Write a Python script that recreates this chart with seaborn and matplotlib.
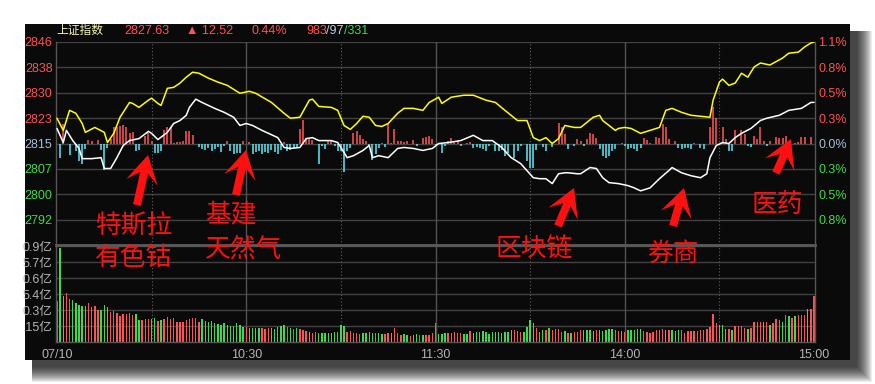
import numpy as np
import pandas as pd
import matplotlib
matplotlib.use("Agg")
import matplotlib.pyplot as plt
import seaborn as sns
from matplotlib.patches import Rectangle, FancyArrow

# ---------------- data ----------------
prev_close = 2815.11
title_name = "上证指数"
last_price = "2827.63"
change_txt = "▲ 12.52"
pct_txt = "0.44%"
breadth = ["983", "/97", "/331"]

price_ticks_k = [4, 3, 2, 1, 0, -1, -2, -3]
price_labels = ["2846", "2838", "2830", "2823", "2815", "2807", "2800", "2792"]
pct_labels = ["1.1%", "0.8%", "0.5%", "0.3%", "0.0%", "0.3%", "0.5%", "0.8%"]
vol_ticks = [16, 32, 48, 64, 80, 96]
vol_labels = [".15亿", "0.3亿", "5.4亿", "0.6亿", "5.7亿", "0.9亿"]
time_ticks = [0, 60, 120, 180, 240]
time_labels = ["07/10", "10:30", "11:30", "14:00", "15:00"]

white_min = [0, 2, 3, 5, 7, 8, 11, 14, 15, 17, 19, 21, 23, 26, 29, 30, 32, 35, 37, 39,
             41, 42, 44, 46, 48, 50, 53, 56, 58, 60, 62, 65, 70, 72, 74, 77, 79, 81, 83, 87,
             89, 91, 92, 94, 97, 99, 100, 102, 105, 108, 110, 113, 116, 119, 121, 124, 128,
             132, 135, 138, 141, 144, 147, 151, 153, 155, 157, 159, 161, 162, 165, 166, 169,
             171, 173, 175, 178, 181, 183, 185, 188, 191, 194, 195, 198, 201, 204, 206, 207,
             209, 211, 213, 215, 217, 220, 223, 225, 229, 232, 236, 239, 240]
white_val = [2819.7, 2815.4, 2819.1, 2816.0, 2813.6, 2810.5, 2810.5, 2810.8, 2807.5, 2807.5,
             2810.8, 2814.5, 2816.0, 2816.6, 2818.8, 2818.2, 2816.3, 2818.5, 2821.2, 2822.1,
             2823.7, 2826.1, 2828.6, 2827.6, 2826.7, 2825.8, 2824.6, 2823.1, 2820.6, 2821.2,
             2820.6, 2819.1, 2816.9, 2813.9, 2813.6, 2813.9, 2816.6, 2816.9, 2816.0, 2816.0,
             2815.4, 2812.4, 2810.8, 2811.4, 2813.0, 2814.5, 2810.8, 2811.4, 2810.8, 2813.6,
             2813.9, 2813.6, 2813.0, 2813.6, 2815.1, 2815.4, 2816.0, 2817.6, 2816.0, 2816.0,
             2813.9, 2810.8, 2809.0, 2804.7, 2804.4, 2804.4, 2802.9, 2805.9, 2806.2, 2806.2,
             2805.9, 2805.9, 2807.8, 2807.5, 2804.7, 2803.2, 2802.9, 2802.3, 2801.6, 2800.7,
             2801.6, 2804.4, 2806.9, 2807.8, 2806.2, 2805.3, 2804.7, 2805.9, 2810.8, 2814.5,
             2815.4, 2815.1, 2816.9, 2818.2, 2819.7, 2822.1, 2822.8, 2823.7, 2825.2, 2825.8,
             2827.6, 2827.63]

yellow_min = [0, 2, 4, 6, 8, 9, 12, 15, 16, 18, 20, 23, 24, 26, 29, 30, 32, 33, 35, 37,
              39, 41, 43, 45, 48, 51, 54, 58, 61, 63, 68, 72, 74, 77, 80, 81, 83, 87, 89, 91,
              93, 95, 97, 99, 101, 103, 105, 108, 110, 113, 116, 118, 121, 122, 125, 129, 132,
              136, 139, 142, 146, 149, 151, 153, 155, 157, 159, 161, 164, 166, 170, 172, 173,
              177, 178, 180, 182, 185, 188, 191, 193, 195, 198, 201, 204, 207, 208, 210, 211,
              213, 215, 217, 219, 221, 223, 226, 230, 232, 235, 237, 239, 240]
yellow_val = [2822.8, 2819.1, 2825.2, 2824.3, 2821.2, 2818.5, 2820.0, 2818.5, 2815.4, 2818.2,
              2823.1, 2827.6, 2827.3, 2826.1, 2828.3, 2828.9, 2827.3, 2826.7, 2831.9, 2832.2,
              2833.5, 2835.3, 2836.8, 2836.5, 2835.0, 2833.8, 2832.8, 2830.4, 2831.0, 2830.4,
              2827.6, 2824.3, 2822.8, 2823.1, 2828.3, 2828.6, 2826.4, 2826.1, 2825.2, 2820.6,
              2819.4, 2821.2, 2823.4, 2823.1, 2820.6, 2820.3, 2821.2, 2824.3, 2825.8, 2825.8,
              2825.2, 2827.6, 2829.2, 2827.3, 2829.2, 2829.8, 2829.8, 2828.3, 2827.6, 2825.2,
              2822.1, 2822.1, 2816.9, 2816.0, 2816.9, 2815.1, 2816.6, 2820.6, 2820.0, 2820.0,
              2823.1, 2823.7, 2822.1, 2819.1, 2819.7, 2820.0, 2819.7, 2818.2, 2819.1, 2820.0,
              2825.2, 2825.8, 2824.6, 2823.7, 2823.4, 2823.1, 2828.3, 2833.8, 2834.7, 2832.8,
              2833.5, 2836.5, 2835.3, 2838.4, 2839.6, 2839.0, 2841.1, 2842.6, 2842.9, 2844.5,
              2845.7, 2846.0]

# buy/sell strength bars (one per minute, + red up, - cyan down)
strength = [0, -14, 20, 0, -11, 0, -7, -17, -20, -5,
            4, 3, 0, 4, -6, -26, -4, 5, 16, 17,
            18, 19, 17, 11, 12, -7, -6, 0, 8, 11,
            3, -9, -9, -7, 14, 16, 17, 1, 2, 2,
            3, 13, 13, 9, 0, -3, -5, -6, -4, -7,
            -5, -3, -8, -2, 3, -7, -10, -9, -9, 3,
            0, 2, -10, -8, -7, -10, -8, -9, -6, -8,
            -10, -6, 2, -7, -6, -4, -3, 15, 23, 6,
            5, 4, 0, -20, -2, -5, 3, 3, -2, -7,
            -7, -28, -7, -4, 11, 13, 9, 5, 3, -2,
            -16, -10, -4, 1, -3, 20, 1, 15, 3, 3,
            2, 3, 0, 4, -2, 0, 6, 7, 8, 5,
            -1, 0, -9, -2, 3, 6, 3, 3, -2, 0,
            1, 2, -4, -3, -4, -5, -7, -2, 0, -7,
            -7, -6, -12, -9, 0, -14, -7, -2, 0, -17,
            -24, -24, -6, 0, -3, -7, 0, -3, 0, 21,
            16, 10, -5, 0, -2, 5, 3, -2, 5, 11,
            10, 6, -5, -12, -14, -12, -7, -5, 0, 1,
            -2, -5, -4, -5, -7, -4, 6, 4, 1, 0,
            7, 6, 20, 16, 5, 0, 3, -4, -5, -4,
            -4, -5, 1, 0, -4, -5, 0, 16, 37, 26,
            0, 16, 5, -7, -7, 14, 0, 14, 10, -2,
            -3, 8, 5, 16, 3, -2, 3, 0, 7, 6,
            6, 8, 2, 0, 1, 2, 7, 7, 0, 7,
            0]

volume = [41, 94, 46, 49, 43, 42, 39, 37, 36, 36,
          39, 35, 36, 32, 32, 37, 35, 30, 31, 29,
          26, 28, 28, 29, 27, 28, 22, 22, 23, 23,
          23, 24, 21, 22, 23, 25, 23, 24, 20, 20,
          20, 22, 23, 24, 24, 20, 23, 21, 20, 21,
          19, 18, 17, 19, 17, 16, 16, 19, 17, 15,
          15, 14, 14, 14, 14, 14, 13, 14, 14, 13,
          15, 16, 17, 15, 14, 13, 14, 13, 12, 11,
          10, 9, 10, 9, 9, 9, 9, 9, 10, 10,
          17, 16, 10, 11, 9, 9, 8, 9, 9, 10,
          9, 9, 9, 8, 8, 9, 9, 14, 9, 7,
          8, 7, 6, 7, 8, 7, 7, 7, 7, 9,
          19, 8, 8, 9, 9, 9, 10, 9, 9, 8,
          8, 11, 9, 10, 10, 11, 10, 8, 10, 10,
          10, 9, 10, 10, 12, 12, 11, 10, 10, 15,
          22, 19, 14, 10, 12, 12, 14, 12, 13, 13,
          10, 11, 9, 9, 10, 10, 12, 12, 12, 12,
          11, 12, 12, 11, 12, 13, 13, 12, 11, 11,
          10, 12, 12, 12, 13, 13, 11, 10, 9, 10,
          12, 12, 13, 12, 12, 12, 11, 12, 12, 9,
          11, 11, 11, 11, 12, 12, 13, 15, 28, 19,
          17, 17, 13, 13, 12, 16, 16, 16, 14, 13,
          14, 20, 20, 20, 20, 20, 17, 19, 23, 22,
          20, 27, 26, 24, 26, 27, 27, 27, 33, 33,
          46]
volume_dir = ("rggrrggggg" "rrrrgggrrr" "rrrrrggrrr" "ggrgrrrrrr" "rrrrrrgggg"
              "gggggggggg" "rggggrrrgg" "gggrgrgrrr" "grrggggggg" "ggrrrrrggg"
              "grggrrgrrr" "ggrggrgrrr" "rgggrrrrrg" "grgggggggg" "gggggrrrgg"
              "ggrggrgrrr" "rgrgrrrggg" "grgggggrrg" "rgggggrrrr" "rrrgrgggrr"
              "rrrrrrrrrr" "gggrgrrrrg" "rrrrgrgrrr" "grgrgrrrgr" "r")

# ---------------- style ----------------
sns.set_theme(style="dark")
plt.rcParams["font.family"] = ["Liberation Sans", "Noto Sans CJK SC", "DejaVu Sans"]
BG = "#0a0a0a"
GRID = "#424242"
RED = "#ff5252"
GREEN = "#3adc4a"
CYAN = "#56e4f0"
ZERO = "#a8bcd8"
AXTXT = "#b4b4b4"

W, H = 875, 384
fig = plt.figure(figsize=(W / 100, H / 100), dpi=100)
fig.patch.set_facecolor("white")

# background + drop shadow (pixel coordinates)
bg = fig.add_axes([0, 0, 1, 1])
bg.set_xlim(0, W)
bg.set_ylim(H, 0)
bg.axis("off")
bg.set_zorder(0)
x0, y0, bw, bh = 25, 24, 825, 336
for e in range(16):
    bg.add_patch(Rectangle((x0 + 7, y0 + 7), bw + e, bh + e,
                           facecolor="black", alpha=0.075, lw=0))
bg.add_patch(Rectangle((x0, y0), bw, bh, facecolor=BG, lw=0))

def frac(px_left, px_top, px_right, px_bottom):
    return [px_left / W, (H - px_bottom) / H, (px_right - px_left) / W,
            (px_bottom - px_top) / H]

step = 30.89 / 4
price_ticks = [prev_close + k * step for k in price_ticks_k]
px_to_price = (8 * step) / 203.0

# ---------------- price panel ----------------
ax = fig.add_axes(frac(56, 42, 815, 245))
ax.set_zorder(1)
ax.set_facecolor("none")
ax.set_xlim(-0.3, 240.3)
ax.set_ylim(prev_close - 4 * step, prev_close + 4 * step)
for t in price_ticks:
    ax.axhline(t, color=GRID, lw=1.0, zorder=1)
for m in [60, 120, 180]:
    ax.axvline(m, color="#525252", lw=1.0, zorder=1)
for m in [30, 90, 150, 210]:
    ax.axvline(m, color="#606060", lw=0.8, ls=(0, (1, 2)), zorder=1)

mins = np.arange(len(strength))
sv = np.array(strength, dtype=float)
up = sv > 0
dn = sv < 0
ax.vlines(mins[up], prev_close, prev_close + sv[up] * px_to_price, colors=RED, lw=1.15, zorder=2)
ax.vlines(mins[dn], prev_close, prev_close + sv[dn] * px_to_price, colors=CYAN, lw=1.15, zorder=2)

dfw = pd.DataFrame({"m": white_min, "p": white_val})
dfy = pd.DataFrame({"m": yellow_min, "p": yellow_val})
sns.lineplot(data=dfy, x="m", y="p", ax=ax, color="#ffff00", lw=1.1, zorder=3)
sns.lineplot(data=dfw, x="m", y="p", ax=ax, color="#ffffff", lw=1.1, zorder=4)

ax.set_yticks(price_ticks)
ax.set_yticklabels(price_labels)
ax.set_xticks([])
ax.set_xlabel("")
ax.set_ylabel("")
ax.tick_params(axis="y", length=0, pad=2.5, labelsize=9)
for lab, k in zip(ax.get_yticklabels(), price_ticks_k):
    lab.set_color(RED if k > 0 else (ZERO if k == 0 else GREEN))
for sp in ax.spines.values():
    sp.set_color("#555555")
    sp.set_linewidth(1.0)
ax.spines["top"].set_visible(False)

ax2 = ax.twinx()
ax2.set_ylim(ax.get_ylim())
ax2.set_yticks(price_ticks)
ax2.set_yticklabels(pct_labels)
ax2.tick_params(axis="y", length=0, pad=2.5, labelsize=9)
ax2.grid(False)
for lab, k in zip(ax2.get_yticklabels(), price_ticks_k):
    lab.set_color(RED if k > 0 else (ZERO if k == 0 else GREEN))
for sp in ax2.spines.values():
    sp.set_visible(False)

# ---------------- volume panel ----------------
av = fig.add_axes(frac(56, 245, 815, 342))
av.set_zorder(1)
av.set_facecolor("none")
av.set_xlim(-0.3, 240.3)
av.set_ylim(0, 97)
for t in vol_ticks:
    av.axhline(t, color=GRID, lw=1.0, zorder=1)
for m in [60, 120, 180]:
    av.axvline(m, color="#525252", lw=1.0, zorder=1)
for m in [30, 90, 150, 210]:
    av.axvline(m, color="#606060", lw=0.8, ls=(0, (1, 2)), zorder=1)
vcols = [RED if c == "r" else GREEN for c in volume_dir]
av.bar(np.arange(len(volume)), volume, width=0.45, color=vcols, lw=0, zorder=2)
av.set_yticks(vol_ticks)
av.set_yticklabels(vol_labels)
av.set_xticks(time_ticks)
av.set_xticklabels(time_labels)
av.tick_params(axis="y", length=0, pad=2.5, labelsize=9, labelcolor=AXTXT)
av.tick_params(axis="x", length=0, pad=5, labelsize=9, labelcolor=AXTXT)
for sp in av.spines.values():
    sp.set_color("#555555")
    sp.set_linewidth(1.0)
av.spines["top"].set_color("#5a5a5a")
av.spines["top"].set_linewidth(2.0)

# ---------------- overlay: header, annotations ----------------
ov = fig.add_axes([0, 0, 1, 1])
ov.set_xlim(0, W)
ov.set_ylim(H, 0)
ov.axis("off")
ov.set_zorder(5)
ov.patch.set_alpha(0)

ov.text(56, 31, title_name, color="#f5f5b0", fontsize=8.5, va="center", ha="left")
ov.text(124, 31, last_price, color=RED, fontsize=9, va="center", ha="left")
ov.text(186, 31, change_txt, color=RED, fontsize=9, va="center", ha="left")
ov.text(252, 31, pct_txt, color=RED, fontsize=9, va="center", ha="left")
ov.text(306, 31, breadth[0], color=RED, fontsize=9, va="center", ha="left")
ov.text(326.5, 31, breadth[1], color="#c4ccd4", fontsize=9, va="center", ha="left")
ov.text(344.5, 31, breadth[2], color=GREEN, fontsize=9, va="center", ha="left")

ARED = "#ff1010"
arrows = [((137, 205), (148, 155)), ((236, 195), (246, 150)), ((558, 226), (574, 188)),
          ((673, 226), (684, 188)), ((776, 173), (791, 139))]
for (tx, ty), (hx, hy) in arrows:
    ov.add_patch(FancyArrow(tx, ty, hx - tx, hy - ty, width=8, head_width=32,
                            head_length=28, length_includes_head=True, overhang=0.35,
                            color=ARED, lw=0))

anns = [(95, 227, "特斯拉"), (95, 258, "有色钴"), (205, 215, "基建"), (205, 250, "天然气"),
        (495, 250, "区块链"), (647, 254, "券商"), (752, 205, "医药")]
for x, y, s in anns:
    ov.text(x, y, s, color=ARED, fontsize=18.5, va="center", ha="left",
            family=["Noto Sans CJK SC", "DejaVu Sans"])

fig.savefig("out.png", dpi=100, facecolor="white")
